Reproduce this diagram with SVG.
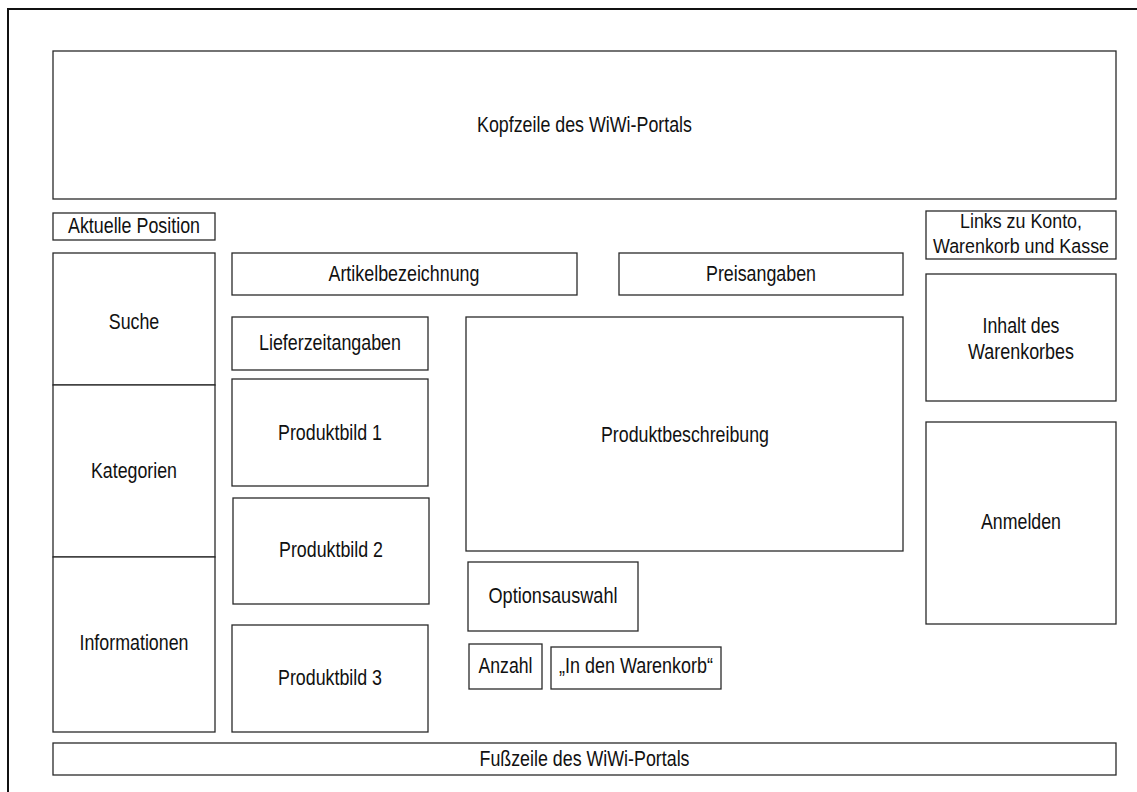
<svg xmlns="http://www.w3.org/2000/svg" width="1137" height="792" viewBox="0 0 1137 792">
<style>
.frame{fill:none;stroke:#111;stroke-width:2}
.box{fill:#fff;stroke:#2a2a2a;stroke-width:1.3}
.lbl{font-family:"Liberation Sans",Arial,sans-serif;font-size:21.5px;fill:#111;text-anchor:middle}
.sm{font-size:20.5px}
</style>
<rect width="1137" height="792" fill="#fff"/>
<rect class="frame" x="8" y="9" width="1200" height="900"/>
<g id="kopfzeile"><rect class="box" x="53" y="51" width="1063" height="148"/><text class="lbl" x="584.5" y="132" textLength="215" lengthAdjust="spacingAndGlyphs">Kopfzeile des WiWi-Portals</text></g>
<g id="aktuelle-position"><rect class="box" x="53" y="213" width="162" height="27"/><text class="lbl" x="134" y="233" textLength="132" lengthAdjust="spacingAndGlyphs">Aktuelle Position</text></g>
<g id="links"><rect class="box" x="926" y="211" width="190" height="48"/><text class="lbl sm" x="1021" y="228" textLength="122" lengthAdjust="spacingAndGlyphs">Links zu Konto,</text><text class="lbl sm" x="1021" y="253" textLength="176" lengthAdjust="spacingAndGlyphs">Warenkorb und Kasse</text></g>
<g id="suche"><rect class="box" x="53" y="253" width="162" height="132"/><text class="lbl" x="134" y="329" textLength="50.5" lengthAdjust="spacingAndGlyphs">Suche</text></g>
<g id="kategorien"><rect class="box" x="53" y="385" width="162" height="172"/><text class="lbl" x="134" y="478" textLength="86" lengthAdjust="spacingAndGlyphs">Kategorien</text></g>
<g id="informationen"><rect class="box" x="53" y="557" width="162" height="175"/><text class="lbl" x="134" y="650" textLength="109" lengthAdjust="spacingAndGlyphs">Informationen</text></g>
<g id="artikelbezeichnung"><rect class="box" x="232" y="253" width="345" height="42"/><text class="lbl" x="404" y="281" textLength="151" lengthAdjust="spacingAndGlyphs">Artikelbezeichnung</text></g>
<g id="preisangaben"><rect class="box" x="619" y="253" width="284" height="42"/><text class="lbl" x="761" y="281" textLength="110" lengthAdjust="spacingAndGlyphs">Preisangaben</text></g>
<g id="lieferzeitangaben"><rect class="box" x="232" y="317" width="196" height="53"/><text class="lbl" x="330" y="350" textLength="142" lengthAdjust="spacingAndGlyphs">Lieferzeitangaben</text></g>
<g id="produktbild-1"><rect class="box" x="232" y="379" width="196" height="107"/><text class="lbl" x="330" y="440" textLength="104" lengthAdjust="spacingAndGlyphs">Produktbild 1</text></g>
<g id="produktbild-2"><rect class="box" x="233" y="498" width="196" height="106"/><text class="lbl" x="331" y="557" textLength="104" lengthAdjust="spacingAndGlyphs">Produktbild 2</text></g>
<g id="produktbild-3"><rect class="box" x="232" y="625" width="196" height="107"/><text class="lbl" x="330" y="685" textLength="104" lengthAdjust="spacingAndGlyphs">Produktbild 3</text></g>
<g id="produktbeschreibung"><rect class="box" x="466" y="317" width="437" height="234"/><text class="lbl" x="685" y="442" textLength="168" lengthAdjust="spacingAndGlyphs">Produktbeschreibung</text></g>
<g id="optionsauswahl"><rect class="box" x="468" y="562" width="170" height="69"/><text class="lbl" x="553" y="603" textLength="129" lengthAdjust="spacingAndGlyphs">Optionsauswahl</text></g>
<g id="anzahl"><rect class="box" x="469" y="644" width="73" height="45"/><text class="lbl" x="505.5" y="673" textLength="54" lengthAdjust="spacingAndGlyphs">Anzahl</text></g>
<g id="in-den-warenkorb"><rect class="box" x="551" y="647" width="170" height="42"/><text class="lbl" x="636" y="673" textLength="154" lengthAdjust="spacingAndGlyphs">„In den Warenkorb“</text></g>
<g id="inhalt-warenkorb"><rect class="box" x="926" y="274" width="190" height="127"/><text class="lbl" x="1021" y="333" textLength="77" lengthAdjust="spacingAndGlyphs">Inhalt des</text><text class="lbl" x="1021" y="359" textLength="106" lengthAdjust="spacingAndGlyphs">Warenkorbes</text></g>
<g id="anmelden"><rect class="box" x="926" y="422" width="190" height="202"/><text class="lbl" x="1021" y="529" textLength="80" lengthAdjust="spacingAndGlyphs">Anmelden</text></g>
<g id="fusszeile"><rect class="box" x="53" y="743" width="1063" height="32"/><text class="lbl" x="584.5" y="766" textLength="210" lengthAdjust="spacingAndGlyphs">Fußzeile des WiWi-Portals</text></g>
<g id="connectors"></g>
</svg>
